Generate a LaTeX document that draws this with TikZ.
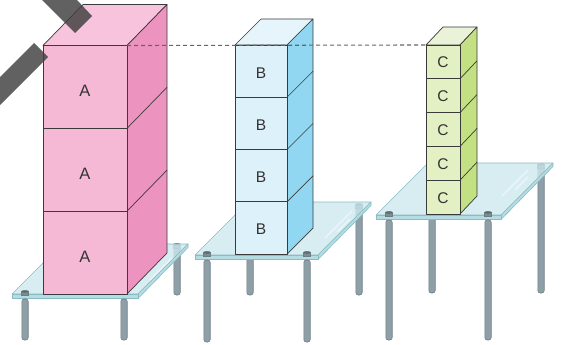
\documentclass[tikz,border=0pt]{standalone}
\usepackage{fontspec}
\setmainfont{Liberation Sans}
\definecolor{pinkF}{HTML}{F5B9D6}
\definecolor{pinkT}{HTML}{F8C4DD}
\definecolor{pinkS}{HTML}{EC93C0}
\definecolor{blueF}{HTML}{DDF1FA}
\definecolor{blueT}{HTML}{E6F5FB}
\definecolor{blueS}{HTML}{92D7F2}
\definecolor{greenF}{HTML}{E3F0C3}
\definecolor{greenT}{HTML}{EAF2D8}
\definecolor{greenS}{HTML}{C3E183}
\definecolor{edgeC}{HTML}{3A3A3A}
\definecolor{labtext}{HTML}{333333}
\definecolor{glassT}{HTML}{CDE8EE}
\definecolor{glassE}{HTML}{B3DCE3}
\definecolor{glassL}{HTML}{8CBCC3}
\definecolor{legF}{HTML}{8F9FA8}
\definecolor{legL}{HTML}{6D7D86}
\definecolor{screwC}{HTML}{7E8B93}
\definecolor{screwT}{HTML}{5E6A71}
\definecolor{barC}{HTML}{3E3E3E}
\definecolor{dashC}{HTML}{666666}
\tikzset{
  cube/.style={draw=edgeC, line width=0.7pt, line join=round},
  lab/.style={text=labtext, inner sep=0pt},
  glasstop/.style={fill=glassT, fill opacity=0.8, draw=glassL, line width=0.6pt, line join=round},
  glassedge/.style={fill=glassE, draw=glassL, line width=0.6pt, line join=round},
  legstyle/.style={fill=legF, draw=legL, line width=0.6pt, rounded corners=2.5pt},
  screwstyle/.style={fill=screwC, draw=legL, line width=0.4pt},
  bar/.style={fill=barC, fill opacity=0.82},
  level/.style={draw=dashC, line width=1.1pt, dash pattern=on 4pt off 3pt},
  shine/.style={draw=white, line width=1.2pt, opacity=0.55}
}
% leg: x, ytop, ybottom
\newcommand{\legat}[3]{\filldraw[legstyle] ({#1-3.2},#2) rectangle ({#1+3.2},#3);}
% screw: x, y of its foot
\newcommand{\screwat}[2]{%
  \filldraw[screwstyle] ({#1-3.6},{#2-3.5}) rectangle ({#1+3.6},#2);
  \filldraw[fill=screwT, draw=legL, line width=0.3pt] (#1,{#2-3.5}) ellipse (3.6pt and 1.3pt);}
% glass top: front-left x, front-left y, width, depth
\newcommand{\gtable}[4]{%
  \filldraw[glasstop] (#1,#2) -- ({#1+#3},#2) -- ({#1+#3+#4},{#2-#4}) -- ({#1+#4},{#2-#4}) -- cycle;
  \filldraw[glassedge] ({#1+#3},#2) -- ({#1+#3+#4},{#2-#4}) -- ({#1+#3+#4},{#2-#4+3.5}) -- ({#1+#3},{#2+4.5}) -- cycle;
  \filldraw[glassedge] (#1,#2) rectangle ({#1+#3},{#2+4.5});}
% stack: x0, ytop, width, block height, blocks, dx, dy, colour prefix
\newcommand{\blockstack}[8]{%
  \pgfmathsetmacro\xr{#1+#3}%
  \pgfmathsetmacro\yb{#2+#5*#4}%
  \pgfmathtruncatemacro\nm{#5-1}%
  \filldraw[cube, fill=#8T] (#1,#2) -- ({#1+#6},{#2-#7}) -- ({\xr+#6},{#2-#7}) -- (\xr,#2) -- cycle;
  \filldraw[cube, fill=#8S] (\xr,#2) -- ({\xr+#6},{#2-#7}) -- ({\xr+#6},{\yb-#7}) -- (\xr,\yb) -- cycle;
  \foreach \i in {1,...,\nm}{\draw[cube] (\xr,{#2+\i*#4}) -- ++(#6,-#7);}
  \foreach \i in {1,...,#5}{\filldraw[cube, fill=#8F] (#1,{#2+(\i-1)*#4}) rectangle (\xr,{#2+\i*#4});}}
\begin{document}
\begin{tikzpicture}[x=1pt,y=-1pt]
\useasboundingbox (0,0) rectangle (562,345);

% ---------- table A ----------
\legat{177}{246}{295}
\screwat{177}{248}
\gtable{12}{294}{126}{50}
\legat{25}{299}{340}
\legat{124}{299}{340}
\screwat{25}{295}
\draw[shine] (150,280) -- (172,258);

% ---------- table B ----------
\legat{250}{205}{295}
\legat{359}{205}{295}
\screwat{359}{208}
\gtable{195}{255}{123}{53}
\legat{207}{260}{342}
\legat{307}{260}{342}
\screwat{207}{256}
\screwat{307}{256}
\draw[shine] (325,238) -- (352,211);
\draw[shine] (337,232) -- (350,219);

% ---------- table C ----------
\legat{432}{165}{293}
\legat{541}{165}{293}
\screwat{541}{168}
\gtable{376}{215}{125}{52}
\legat{389}{220}{340}
\legat{488}{220}{340}
\screwat{389}{216}
\screwat{488}{216}
\draw[shine] (502,196) -- (528,170);
\draw[shine] (515,190) -- (528,177);

% ---------- stacks ----------
\blockstack{43}{45.5}{84}{82.83}{3}{40}{41}{pink}
\blockstack{235}{45}{52}{52.25}{4}{26}{26}{blue}
\blockstack{426}{45}{34}{33.8}{5}{17}{18}{green}

\node[lab, font=\fontsize{16.5}{16.5}\selectfont] (a1) at (85,91) {A};
\node[lab, font=\fontsize{16.5}{16.5}\selectfont] (a2) at (85,174) {A};
\node[lab, font=\fontsize{16.5}{16.5}\selectfont] (a3) at (85,257) {A};
\node[lab, font=\fontsize{15.5}{15.5}\selectfont] (b1) at (261,73) {B};
\node[lab, font=\fontsize{15.5}{15.5}\selectfont] (b2) at (261,125) {B};
\node[lab, font=\fontsize{15.5}{15.5}\selectfont] (b3) at (261,177) {B};
\node[lab, font=\fontsize{15.5}{15.5}\selectfont] (b4) at (261,229) {B};
\node[lab, font=\fontsize{15.5}{15.5}\selectfont] (c1) at (443,62.5) {C};
\node[lab, font=\fontsize{15.5}{15.5}\selectfont] (c2) at (443,96.3) {C};
\node[lab, font=\fontsize{15.5}{15.5}\selectfont] (c3) at (443,130.1) {C};
\node[lab, font=\fontsize{15.5}{15.5}\selectfont] (c4) at (443,163.9) {C};
\node[lab, font=\fontsize{15.5}{15.5}\selectfont] (c5) at (443,197.7) {C};

% ---------- level line ----------
\coordinate (lvA) at (127,45.5);
\coordinate (lvC) at (426,45);
\draw[level] (lvA) -- (lvC);

% ---------- dark bars ----------
\fill[bar] (42,0) -- (75,33) -- (92,16) -- (77,0) -- cycle;
\fill[bar] (0,77) -- (34,43) -- (48,57) -- (0,105) -- cycle;
\end{tikzpicture}
\end{document}
